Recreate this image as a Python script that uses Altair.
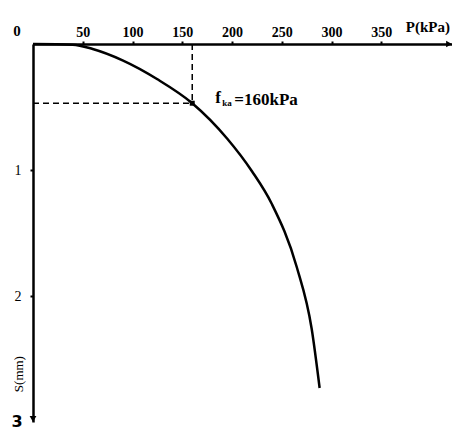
import altair as alt
import pandas as pd

# Load-settlement curve
P = [0, 40, 60, 90, 125, 160, 195, 220, 240, 265, 280, 288]
S = [0, 0.005, 0.04, 0.13, 0.28, 0.47, 0.75, 1.01, 1.27, 1.77, 2.26, 2.73]

x_ticks = [50, 100, 150, 200, 250, 300, 350]
y_ticks = [1, 2]
fka_P = 160
fka_S = 0.47
P_max = 421
S_max = 3

FONT = "Liberation Serif"

curve = pd.DataFrame({"P": P, "S": S})

xs = alt.Scale(domain=[0, P_max], nice=False)
ys = alt.Scale(domain=[0, S_max], reverse=True, nice=False)

base = alt.Chart(curve)

line = base.mark_line(color="black", strokeWidth=2.5, interpolate="monotone").encode(
    x=alt.X("P:Q", scale=xs, axis=alt.Axis(
        orient="top", values=x_ticks, title=None, grid=False, format="d",
        domainColor="black", domainWidth=2.5, tickColor="black", tickSize=3,
        tickWidth=2, labelFont=FONT, labelFontSize=14, labelFontWeight="bold",
        labelColor="black", labelPadding=2)),
    y=alt.Y("S:Q", scale=ys, axis=alt.Axis(
        orient="left", values=y_ticks, title=None, grid=False, format="d",
        domainColor="black", domainWidth=2.5, tickColor="black", tickSize=3,
        tickWidth=2, labelFont=FONT, labelFontSize=14, labelColor="black",
        labelPadding=9)),
)

pt = pd.DataFrame({"P": [fka_P], "S": [fka_S], "P0": [0], "S0": [0]})

vdash = alt.Chart(pt).mark_rule(color="black", strokeWidth=1.5, strokeDash=[6, 4]).encode(
    x=alt.X("P:Q", scale=xs), y=alt.Y("S0:Q", scale=ys), y2="S:Q")
hdash = alt.Chart(pt).mark_rule(color="black", strokeWidth=1.5, strokeDash=[6, 4]).encode(
    x=alt.X("P0:Q", scale=xs), x2="P:Q", y=alt.Y("S:Q", scale=ys))
dot = alt.Chart(pt).mark_point(shape="square", filled=True, color="black", size=25, opacity=1).encode(
    x=alt.X("P:Q", scale=xs), y=alt.Y("S:Q", scale=ys))

f_txt = alt.Chart(pt).mark_text(text="f", font=FONT, fontSize=17, fontWeight="bold",
                                align="left", baseline="middle", dx=23, dy=-5, color="black").encode(
    x=alt.X("P:Q", scale=xs), y=alt.Y("S:Q", scale=ys))
ka_txt = alt.Chart(pt).mark_text(text="ka", font=FONT, fontSize=9, fontWeight="bold",
                                 align="left", baseline="middle", dx=30, dy=0, color="black").encode(
    x=alt.X("P:Q", scale=xs), y=alt.Y("S:Q", scale=ys))
val_txt = alt.Chart(pt).mark_text(text="=160kPa", font=FONT, fontSize=17, fontWeight="bold",
                                  align="left", baseline="middle", dx=42, dy=-3, color="black").encode(
    x=alt.X("P:Q", scale=xs), y=alt.Y("S:Q", scale=ys))

corners = pd.DataFrame({"P": [0, 0, P_max], "S": [0, S_max, 0]})
zero_txt = alt.Chart(corners.iloc[[0]]).mark_text(
    text="0", font=FONT, fontSize=15, fontWeight="bold", align="center", baseline="middle",
    dx=-16, dy=-13, color="black").encode(x=alt.X("P:Q", scale=xs), y=alt.Y("S:Q", scale=ys))
three_txt = alt.Chart(corners.iloc[[1]]).mark_text(
    text="3", font="DejaVu Sans", fontSize=16, fontWeight="bold", align="center", baseline="middle",
    dx=-16, dy=0, color="black").encode(x=alt.X("P:Q", scale=xs), y=alt.Y("S:Q", scale=ys))
p_txt = alt.Chart(corners.iloc[[2]]).mark_text(
    text="P(kPa)", font=FONT, fontSize=15, fontWeight="bold", align="right", baseline="middle",
    dx=-2, dy=-17, color="black").encode(x=alt.X("P:Q", scale=xs), y=alt.Y("S:Q", scale=ys))
s_lab = pd.DataFrame({"P": [0], "S": [2.62]})
s_txt = alt.Chart(s_lab).mark_text(
    text="S(mm)", font=FONT, fontSize=13, angle=270, align="center", baseline="middle",
    xOffset=-14, color="black").encode(x=alt.X("P:Q", scale=xs), y=alt.Y("S:Q", scale=ys))

arrow_down = alt.Chart(corners.iloc[[1]]).mark_point(
    shape="triangle-down", filled=True, color="black", size=45, opacity=1, yOffset=-3).encode(
    x=alt.X("P:Q", scale=xs), y=alt.Y("S:Q", scale=ys))
arrow_right = alt.Chart(corners.iloc[[2]]).mark_point(
    shape="triangle-right", filled=True, color="black", size=45, opacity=1, xOffset=-3).encode(
    x=alt.X("P:Q", scale=xs), y=alt.Y("S:Q", scale=ys))

chart = alt.layer(line, vdash, hdash, dot, f_txt, ka_txt, val_txt, zero_txt, three_txt,
                  p_txt, s_txt, arrow_down, arrow_right).properties(
    width=419, height=378,
    autosize=alt.AutoSizeParams(type="none"),
    padding={"left": 25, "top": 36, "right": 0, "bottom": 11},
    background="white",
).configure_view(stroke=None)

chart.save("out.html", embed_options={"renderer": "svg", "actions": False})
